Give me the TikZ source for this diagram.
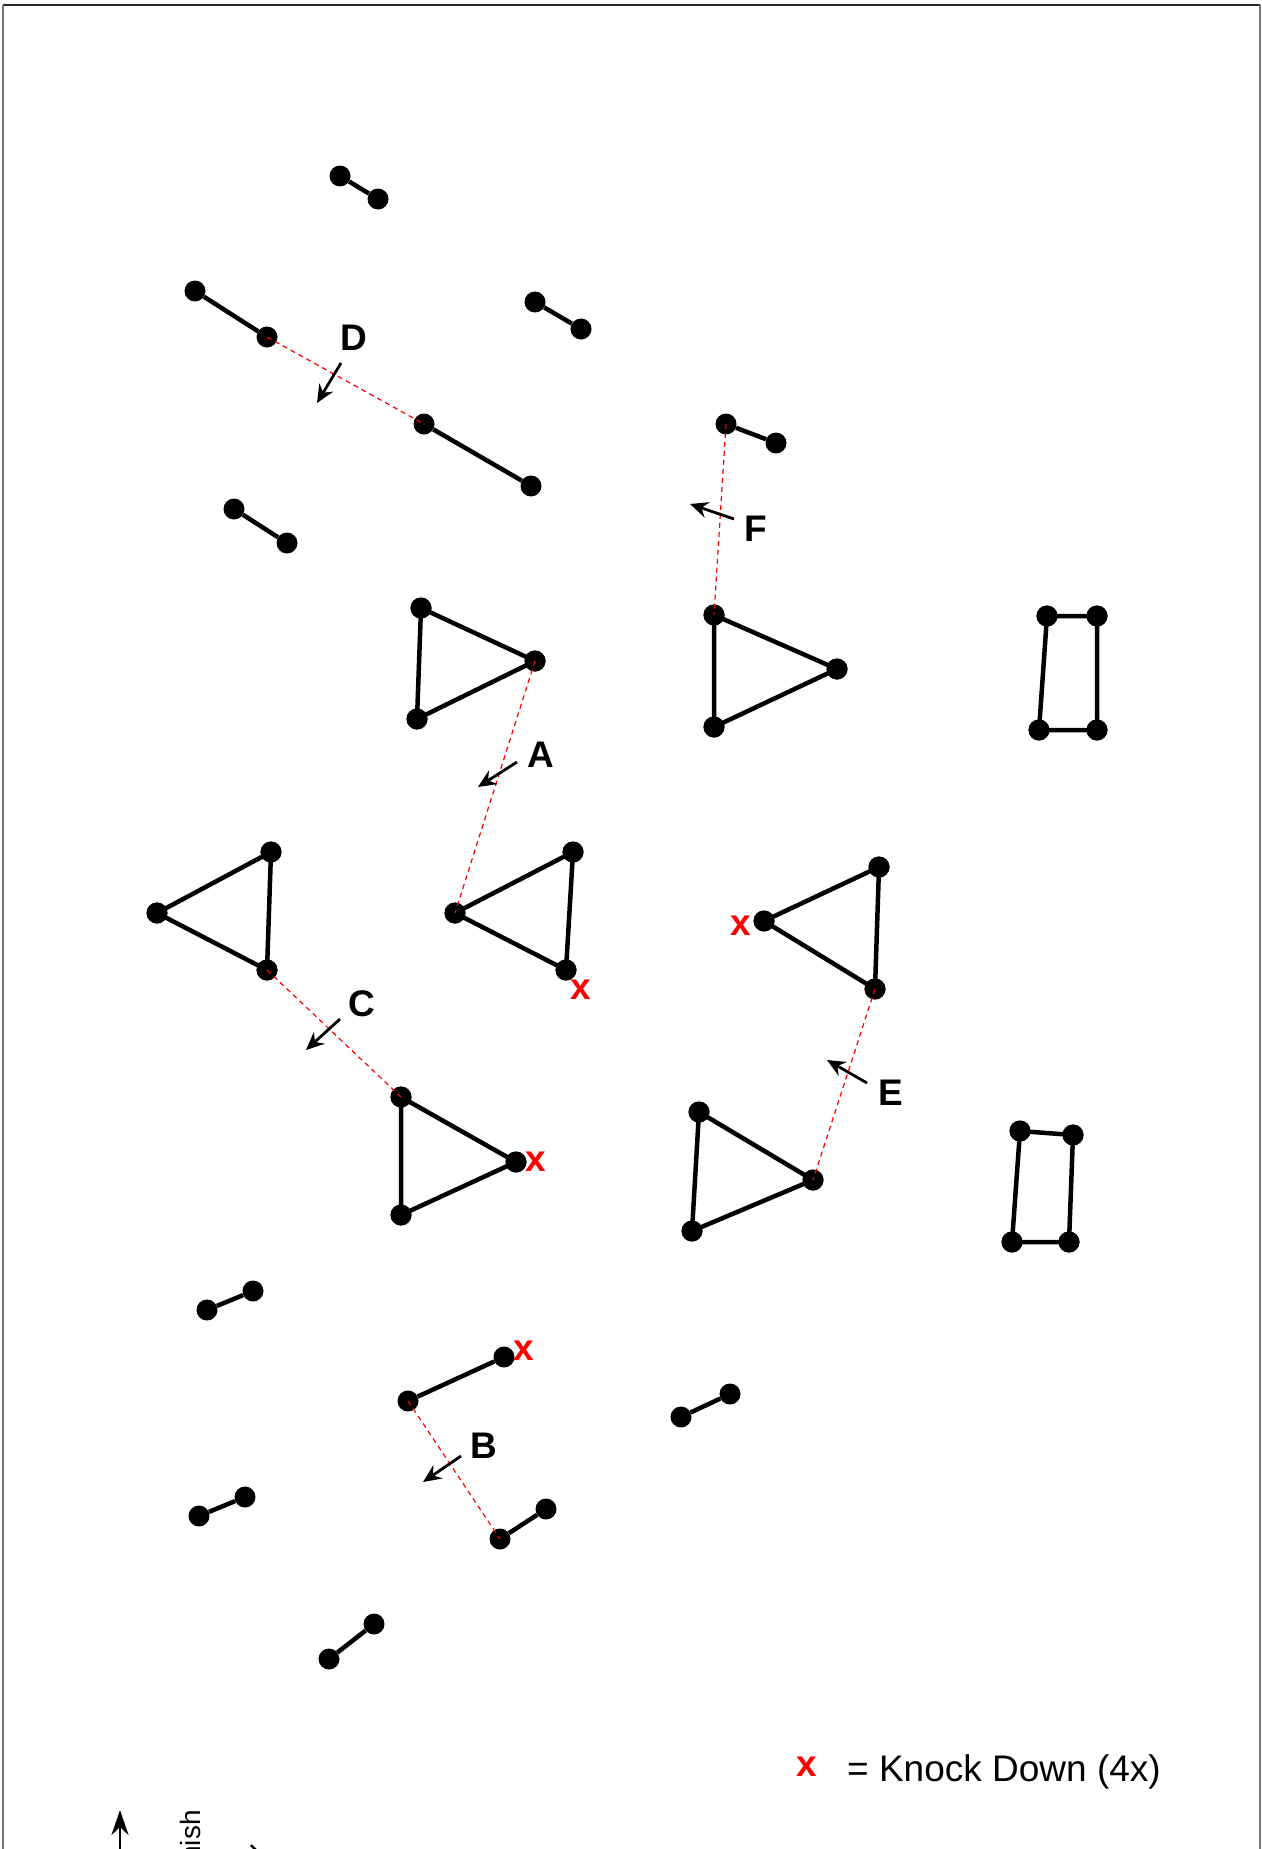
\documentclass[tikz,border=0pt]{standalone}
\usepackage{fontspec}
\setmainfont{Liberation Sans}
\usetikzlibrary{arrows.meta}
\begin{document}
\begin{tikzpicture}[x=1pt,y=-1pt,
  dot/.style={circle,fill=black,inner sep=0pt,minimum size=21pt},
  bar/.style={line width=4.5pt,line join=round},
  route/.style={red,line width=1.2pt,dash pattern=on 5pt off 4pt},
  move/.style={line width=2.8pt,-{Stealth[length=18pt,width=16pt,inset=6pt]}},
  lbl/.style={font=\bfseries\fontsize{37}{40}\selectfont,inner sep=0pt},
  ko/.style={font=\bfseries\fontsize{37}{40}\selectfont,text=red,inner sep=0pt}
]
\useasboundingbox (0,0) rectangle (1261,1849);
% frame
\coordinate (fTL) at (3,5); \coordinate (fTR) at (1260,5);
\coordinate (fBL) at (3,1849); \coordinate (fBR) at (1260,1849);
\draw[black!85,line width=2pt] (fTL) -- (fTR);
\draw[black!55,line width=1.3pt] (fTL) -- (fBL);
\draw[black!55,line width=1.3pt] (fTR) -- (fBR);

% dumbbells
\node[dot] (a1) at (340,176) {}; \node[dot] (a2) at (378,199) {};
\node[dot] (b1) at (195,291) {}; \node[dot] (b2) at (267,337) {};
\node[dot] (c1) at (535,302) {}; \node[dot] (c2) at (581,329) {};
\node[dot] (d1) at (424,424) {}; \node[dot] (d2) at (531,486) {};
\node[dot] (e1) at (234,509) {}; \node[dot] (e2) at (287,543) {};
\node[dot] (f1) at (726,424) {}; \node[dot] (f2) at (776,443) {};
\node[dot] (g1) at (207,1310) {}; \node[dot] (g2) at (253,1291) {};
\node[dot] (h1) at (408,1401) {}; \node[dot] (h2) at (504,1357) {};
\node[dot] (i1) at (500,1539) {}; \node[dot] (i2) at (546,1509) {};
\node[dot] (j1) at (681,1417) {}; \node[dot] (j2) at (730,1394) {};
\node[dot] (k1) at (199,1516) {}; \node[dot] (k2) at (245,1497) {};
\node[dot] (l1) at (329,1659) {}; \node[dot] (l2) at (374,1624) {};
\foreach \p in {a,b,c,d,e,f,g,h,i,j,k,l} \draw[bar] (\p1) -- (\p2);

% triangles
\node[dot] (t1a) at (421,608) {}; \node[dot] (t1b) at (535,661) {}; \node[dot] (t1c) at (417,719) {};
\node[dot] (t2a) at (714,615) {}; \node[dot] (t2b) at (837,669) {}; \node[dot] (t2c) at (714,727) {};
\node[dot] (t3a) at (271,852) {}; \node[dot] (t3b) at (157,913) {}; \node[dot] (t3c) at (267,970) {};
\node[dot] (t4a) at (573,852) {}; \node[dot] (t4b) at (455,913) {}; \node[dot] (t4c) at (566,970) {};
\node[dot] (t5a) at (879,867) {}; \node[dot] (t5b) at (764,921) {}; \node[dot] (t5c) at (875,989) {};
\node[dot] (t6a) at (401,1097) {}; \node[dot] (t6b) at (516,1162) {}; \node[dot] (t6c) at (401,1215) {};
\node[dot] (t7a) at (699,1112) {}; \node[dot] (t7b) at (813,1180) {}; \node[dot] (t7c) at (692,1231) {};
\foreach \t in {t1,t2,t3,t4,t5,t6,t7}
  \draw[bar] (\t a.center) -- (\t b.center) -- (\t c.center) -- cycle;

% rectangles
\node[dot] (r1a) at (1047,616) {}; \node[dot] (r1b) at (1097,616) {};
\node[dot] (r1c) at (1097,730) {}; \node[dot] (r1d) at (1039,730) {};
\node[dot] (r2a) at (1020,1131) {}; \node[dot] (r2b) at (1073,1135) {};
\node[dot] (r2c) at (1069,1242) {}; \node[dot] (r2d) at (1012,1242) {};
\foreach \r in {r1,r2}
  \draw[bar] (\r a.center) -- (\r b.center) -- (\r c.center) -- (\r d.center) -- cycle;

% redraw dots on top of lines
\foreach \n in {t1a,t1b,t1c,t2a,t2b,t2c,t3a,t3b,t3c,t4a,t4b,t4c,t5a,t5b,t5c,t6a,t6b,t6c,t7a,t7b,t7c,r1a,r1b,r1c,r1d,r2a,r2b,r2c,r2d}
  \fill (\n.center) circle (10.5pt);

% red dashed routes
\draw[route] (b2.center) -- (d1.center);
\draw[route] (f1.center) -- (t2a.center);
\draw[route] (t1b.center) -- (t4b.center);
\draw[route] (t3c.center) -- (t6a.center);
\draw[route] (t5c.center) -- (t7b.center);
\draw[route] (h1.center) -- (i1.center);

% move arrows and labels
\coordinate (mDs) at (341,363); \coordinate (mDe) at (317,403);
\coordinate (mFs) at (734,519); \coordinate (mFe) at (690,504);
\coordinate (mAs) at (517,762); \coordinate (mAe) at (478,787);
\coordinate (mCs) at (340,1019); \coordinate (mCe) at (306,1050);
\coordinate (mEs) at (867,1083); \coordinate (mEe) at (827,1060);
\coordinate (mBs) at (461,1456); \coordinate (mBe) at (423,1482);
\foreach \m in {D,F,A,C,E,B} \draw[move] (m\m s) -- (m\m e);
\node[lbl] (lD) at (354,338) {D};
\node[lbl] (lF) at (756,529) {F};
\node[lbl] (lA) at (541,755) {A};
\node[lbl] (lC) at (362,1004) {C};
\node[lbl] (lE) at (891,1093) {E};
\node[lbl] (lB) at (484,1446) {B};

% knock downs
\node[ko] (x1) at (581,990) {x};
\node[ko] (x2) at (741,926) {x};
\node[ko] (x3) at (536,1162) {x};
\node[ko] (x4) at (524,1351) {x};

% legend
\node[ko] (xl) at (807,1767) {x};
\node[anchor=base west,inner sep=0pt,font=\fontsize{37}{40}\selectfont] (leg) at (847,1781) {= Knock Down (4x)};

% finish arrow (cut by page)
\coordinate (finS) at (120,1890); \coordinate (finE) at (120,1810);
\draw[line width=2.8pt,-{Stealth[length=25pt,width=17pt,inset=8pt]}] (finS) -- (finE);
\node[rotate=90,anchor=base east,inner sep=0pt,font=\fontsize{28}{30}\selectfont] (fin) at (200,1810) {Finish};
% partly visible mark at bottom edge
\coordinate (tk1) at (251,1845); \coordinate (tk2) at (256,1850);
\draw[line width=2.5pt] (tk1) -- (tk2);
\end{tikzpicture}
\end{document}
